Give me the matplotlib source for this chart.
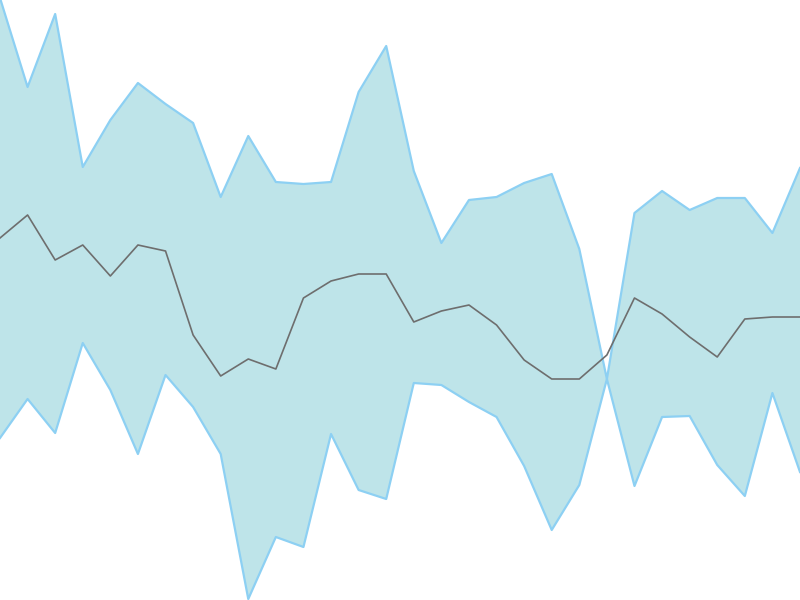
import matplotlib
matplotlib.use("Agg")
import matplotlib.pyplot as plt
import numpy as np

# values (band top, band bottom, middle line)
upper = [602, 513, 586, 433, 480, 517, 496, 477, 403, 464, 418, 416, 418, 508, 554,
         429, 357, 400, 403, 417, 426, 351, 221, 387, 409, 390, 402, 402, 367, 432]
lower = [162, 201, 167, 257, 210, 146, 225, 193, 146, 1, 63, 53, 166, 110, 101,
         217, 215, 198, 183, 134, 70, 115, 221, 114, 183, 184, 135, 104, 207, 128]
middle = [362, 385, 340, 355, 324, 355, 349, 265, 224, 241, 231, 302, 319, 326, 326,
          278, 289, 295, 275, 240, 221, 221, 245, 302, 286, 263, 243, 281, 283, 283]

x = np.arange(len(middle))

fig = plt.figure(figsize=(8, 6), dpi=100)
ax = fig.add_axes([0, 0, 1, 1])
ax.fill_between(x, lower, upper, color='#bee4e9', linewidth=0)
ax.plot(x, upper, color='#8dd0f3', lw=1.6)
ax.plot(x, lower, color='#8dd0f3', lw=1.6)
ax.plot(x, middle, color='#6e6e6e', lw=1.2)
ax.set_xlim(0, len(middle) - 1)
ax.set_ylim(0, 600)
ax.axis('off')
fig.savefig("out.png", dpi=100)
